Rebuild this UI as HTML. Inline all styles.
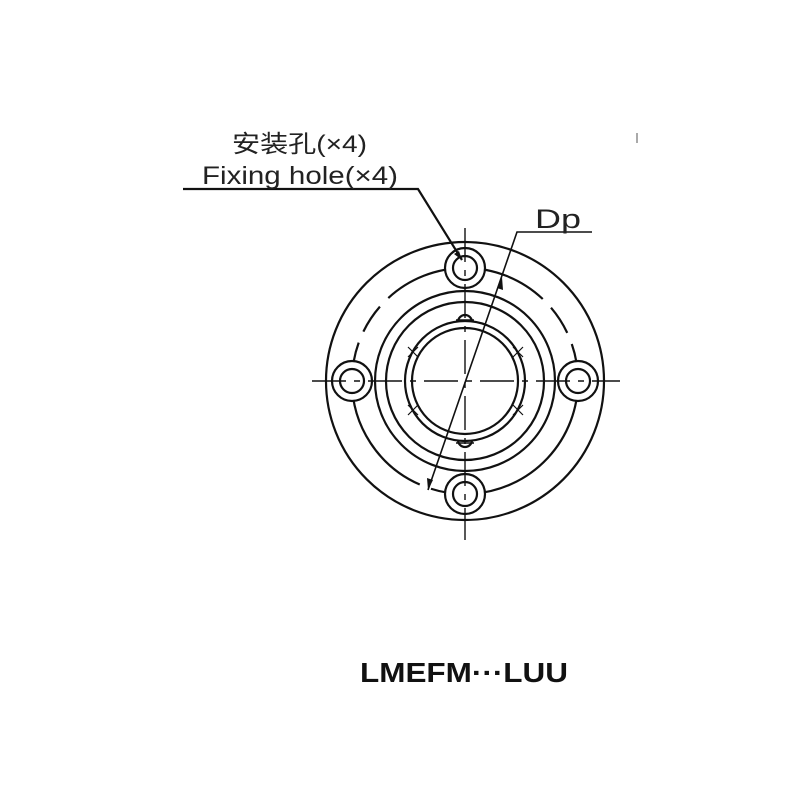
<!DOCTYPE html>
<html><head><meta charset="utf-8"><style>
html,body{margin:0;padding:0;background:#fff;}
svg{display:block;}
</style></head><body>
<svg width="800" height="800" viewBox="0 0 800 800" xmlns="http://www.w3.org/2000/svg">
<g fill="none" stroke="#111" stroke-width="2.2">
  <circle cx="465" cy="381" r="139"/>
  <circle cx="465" cy="381" r="113" stroke-dasharray="170 12 30 12"/>
  <circle cx="465" cy="381" r="90"/>
  <circle cx="465" cy="381" r="79"/>
  <circle cx="465" cy="381" r="60"/>
  <circle cx="465" cy="381" r="53"/>
  <g fill="#fff">
  <circle cx="465" cy="268" r="20"/><circle cx="465" cy="268" r="12"/>
  <circle cx="465" cy="494" r="20"/><circle cx="465" cy="494" r="12"/>
  <circle cx="352" cy="381" r="20"/><circle cx="352" cy="381" r="12"/>
  <circle cx="578" cy="381" r="20"/><circle cx="578" cy="381" r="12"/>
  </g>
  <path d="M458 322 a7 7 0 0 1 14 0 M458 440 a7 7 0 0 0 14 0"/>
  <path d="M456 320 h18 M456 443 h18" stroke-width="1.4"/>
  <path d="M408 347 l10 10 M418 347 l-10 10 M513 347 l10 10 M523 347 l-10 10 M408 405 l10 10 M418 405 l-10 10 M513 405 l10 10 M523 405 l-10 10" stroke-width="1.2"/>
</g>
<g stroke="#111" stroke-width="1.4" fill="none">
  <path d="M312 381 H620" stroke-dasharray="34 8 6 8"/>
  <path d="M465 228 V540" stroke-dasharray="34 8 6 8"/>
  <path d="M428 490 L517 232 H592" stroke-width="1.6"/>
  <path d="M183 189 H418 L462 260" stroke-width="2.2"/>
</g>
<path d="M428 490 l-1 -12 l6 2z M502 277 l-5 11 l6 2z" fill="#111"/>
<path d="M462 260 l-8 -6 l5 -3z" fill="#111"/>
<g font-family="'Liberation Sans','Noto Sans CJK SC',sans-serif" fill="#222">
  <text x="232" y="152" font-size="24" textLength="135" lengthAdjust="spacingAndGlyphs">安装孔(×4)</text>
  <text x="202" y="184" font-size="25" textLength="196" lengthAdjust="spacingAndGlyphs">Fixing hole(×4)</text>
  <text x="535" y="228" font-size="27" textLength="46" lengthAdjust="spacingAndGlyphs">Dp</text>
  <text x="360" y="682" font-size="28" font-weight="bold" fill="#111" textLength="208" lengthAdjust="spacingAndGlyphs">LMEFM···LUU</text>
</g>
<rect x="636" y="133" width="2" height="10" fill="#aaa"/>
</svg>
</body></html>
